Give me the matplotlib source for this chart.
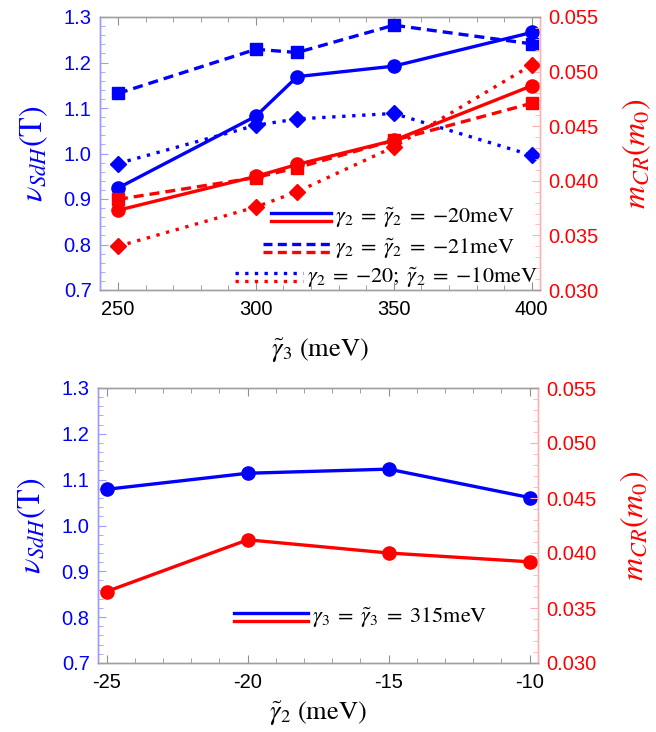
import matplotlib
matplotlib.use("Agg")
import matplotlib.pyplot as plt
from matplotlib.lines import Line2D
from matplotlib.ticker import MultipleLocator
import numpy as np

plt.rcParams['mathtext.fontset'] = 'stix'
plt.rcParams['font.family'] = ['Liberation Sans', 'DejaVu Sans']
plt.rcParams['axes.unicode_minus'] = False

# ---------------- data ----------------
gamma3 = [250, 300, 315, 350, 400]
nu_solid = [0.924, 1.082, 1.169, 1.192, 1.266]
nu_dashed = [1.132, 1.229, 1.222, 1.282, 1.241]
nu_dotted = [0.978, 1.062, 1.076, 1.088, 0.996]
m_solid = [0.0373, 0.0404, 0.0415, 0.0437, 0.0487]
m_dashed = [0.0383, 0.0403, 0.0412, 0.0437, 0.0471]
m_dotted = [0.0340, 0.0376, 0.0390, 0.0431, 0.0506]

gamma2 = [-25, -20, -15, -10]
nu_g2 = [1.079, 1.114, 1.123, 1.061]
m_g2 = [0.0365, 0.0412, 0.0400, 0.0392]

legend_top = [r'$\gamma_2\;=\;\tilde{\gamma}_2\;=\;{-}20\mathrm{meV}$',
              r'$\gamma_2\;=\;\tilde{\gamma}_2\;=\;{-}21\mathrm{meV}$',
              r'$\gamma_2\;=\;{-}20;\;\tilde{\gamma}_2\;=\;{-}10\mathrm{meV}$']
legend_bottom = [r'$\gamma_3\;=\;\tilde{\gamma}_3\;=\;315\mathrm{meV}$']

BLUE = '#0000ff'
RED = '#ff0000'
LW = 2.4
DASH = (0, (3.0, 1.8))
DOT = (0, (1.0, 2.0))

W, H = 656, 732
fig = plt.figure(figsize=(W / 100, H / 100), dpi=100)

def px_axes(l, t, r, b):
    return fig.add_axes([l / W, 1 - b / H, (r - l) / W, (b - t) / H])

ax1 = px_axes(100, 17, 540, 290)
ax2 = px_axes(98, 388, 538, 663)


def style(ax, axr, xlim, xmaj, xmin):
    ax.set_xlim(*xlim)
    ax.set_ylim(0.7, 1.3)
    axr.set_ylim(0.030, 0.055)
    ax.xaxis.set_major_locator(MultipleLocator(xmaj))
    ax.xaxis.set_minor_locator(MultipleLocator(xmin))
    ax.yaxis.set_major_locator(MultipleLocator(0.1))
    ax.yaxis.set_minor_locator(MultipleLocator(0.02))
    axr.yaxis.set_major_locator(MultipleLocator(0.005))
    axr.yaxis.set_minor_locator(MultipleLocator(0.001))
    ax.yaxis.set_major_formatter(matplotlib.ticker.FormatStrFormatter('%.1f'))
    axr.yaxis.set_major_formatter(matplotlib.ticker.FormatStrFormatter('%.3f'))
    for a in (ax, axr):
        a.spines['top'].set_color('#a0a0a0')
        a.spines['bottom'].set_color('#a0a0a0')
        a.spines['left'].set_color('#9b9bff')
        a.spines['right'].set_color('#ffb0b0')
        for s in a.spines.values():
            s.set_linewidth(1.0)
    ax.tick_params(axis='x', which='both', direction='in', top=True,
                   colors='#909090', labelcolor='black', labelsize=14.5, pad=7)
    ax.tick_params(axis='x', which='major', length=6, width=0.8)
    ax.tick_params(axis='x', which='minor', length=3.5, width=0.6)
    ax.tick_params(axis='y', which='both', direction='in', colors='#9b9bff',
                   labelcolor=BLUE, labelsize=14.5, pad=6)
    ax.tick_params(axis='y', which='major', length=6, width=0.8)
    ax.tick_params(axis='y', which='minor', length=3.5, width=0.6)
    axr.tick_params(axis='y', which='both', direction='in', colors='#ffb0b0',
                    labelcolor=RED, labelsize=14.5, pad=6)
    axr.tick_params(axis='y', which='major', length=6, width=0.8)
    axr.tick_params(axis='y', which='minor', length=3.5, width=0.6)
    ax.set_ylabel(r'$\nu_{SdH}(\mathrm{T})$', color=BLUE, fontsize=23, labelpad=10)
    axr.set_ylabel(r'$m_{CR}(m_0)$', color=RED, fontsize=23, labelpad=16)


# ---------------- top panel ----------------
ax1r = ax1.twinx()
style(ax1, ax1r, (243.5, 403), 50, 10)
ax1.plot(gamma3, nu_dashed, color=BLUE, lw=LW, ls=DASH, marker='s', ms=9, clip_on=False)
ax1.plot(gamma3, nu_dotted, color=BLUE, lw=LW, ls=DOT, marker='D', ms=8, clip_on=False)
ax1.plot(gamma3, nu_solid, color=BLUE, lw=LW, ls='-', marker='o', ms=9.5, clip_on=False)
ax1r.plot(gamma3, m_dashed, color=RED, lw=LW, ls=DASH, marker='s', ms=9, clip_on=False)
ax1r.plot(gamma3, m_dotted, color=RED, lw=LW, ls=DOT, marker='D', ms=8, clip_on=False)
ax1r.plot(gamma3, m_solid, color=RED, lw=LW, ls='-', marker='o', ms=9.5, clip_on=False)
ax1.set_xlabel(r'$\tilde{\gamma}_3\ \left(\mathrm{meV}\right)$', fontsize=19, labelpad=13)

# ---------------- bottom panel ----------------
ax2r = ax2.twinx()
style(ax2, ax2r, (-25.31, -9.70), 5, 1)
ax2.plot(gamma2, nu_g2, color=BLUE, lw=LW, marker='o', ms=9.5, clip_on=False)
ax2r.plot(gamma2, m_g2, color=RED, lw=LW, marker='o', ms=9.5, clip_on=False)
ax2.set_xlabel(r'$\tilde{\gamma}_2\ \left(\mathrm{meV}\right)$', fontsize=19, labelpad=6)
ax2.set_xticks(gamma2)
ax2.set_xticklabels([str(v) for v in gamma2])

# ---------------- legends (drawn manually, right-aligned rows) ----------------
fig.canvas.draw()
renderer = fig.canvas.get_renderer()


def legend_row(label, right_px, cy_px, ls, hlen=68, gap=4):
    t = fig.text(right_px / W, 1 - (cy_px + 1) / H, label, ha='right', va='center',
                 fontsize=16, color='black')
    bb = t.get_window_extent(renderer=renderer)
    x1 = bb.x0 - gap
    x0 = x1 - hlen
    for col, dy in ((BLUE, -4), (RED, 4)):
        y = H - (cy_px + dy)
        fig.add_artist(Line2D([x0 / W, x1 / W], [y / H, y / H], color=col, lw=LW,
                              ls=ls, transform=fig.transFigure))


legend_row(legend_top[0], 515, 217, '-', hlen=60)
legend_row(legend_top[1], 515, 248, (0, (2.7, 1.6)))
legend_row(legend_top[2], 538, 277, (0, (1.0, 1.9)))
legend_row(legend_bottom[0], 487, 617, '-', hlen=74)

fig.savefig('out.png', dpi=100)
